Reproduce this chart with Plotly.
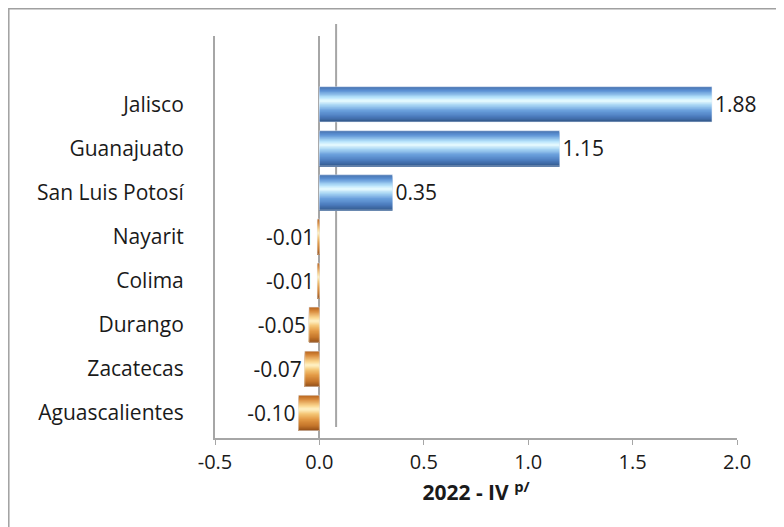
import plotly.graph_objects as go

# Data (bottom to top)
states = ['Aguascalientes', 'Zacatecas', 'Durango', 'Colima', 'Nayarit',
          'San Luis Potosí', 'Guanajuato', 'Jalisco']
values = [-0.10, -0.07, -0.05, -0.01, -0.01, 0.35, 1.15, 1.88]
labels = ['-0.10', '-0.07', '-0.05', '-0.01', '-0.01', '0.35', '1.15', '1.88']

# colour stops (top -> bottom) for the cylinder shading
BLUE_STOPS = [(0.0, '#4470ad'), (0.12, '#5e93d5'), (0.30, '#b4e2fb'),
              (0.40, '#eafcff'), (0.52, '#a9d6f4'), (0.68, '#6a9fdc'),
              (0.85, '#4b7bbd'), (1.0, '#33598c')]
ORANGE_STOPS = [(0.0, '#b5621d'), (0.12, '#d98c3e'), (0.30, '#fbd790'),
                (0.40, '#fff3c8'), (0.52, '#f6c97a'), (0.68, '#e39a46'),
                (0.85, '#c7782c'), (1.0, '#955118')]

FONT = '"Open Sans", Lato, sans-serif'
TEXT = '#1a1a1a'
GRID = '#a6a6a6'


def shade(stops, t):
    for (t0, c0), (t1, c1) in zip(stops, stops[1:]):
        if t <= t1:
            f = (t - t0) / (t1 - t0)
            a = [int(c0[k:k + 2], 16) for k in (1, 3, 5)]
            b = [int(c1[k:k + 2], 16) for k in (1, 3, 5)]
            return 'rgb(%d,%d,%d)' % tuple(round(x + (y - x) * f) for x, y in zip(a, b))
    return stops[-1][1]


fig = go.Figure()

n = 30
bar_w = 0.8
band = bar_w / n
for i in range(n):
    t = (i + 0.5) / n
    # each layer runs from the bar bottom up to band i; later layers paint over the lower part
    fig.add_trace(go.Bar(
        y=states, x=values, orientation='h',
        width=bar_w - i * band, offset=-bar_w / 2,
        marker=dict(color=[shade(BLUE_STOPS, t) if v >= 0 else shade(ORANGE_STOPS, t)
                           for v in values],
                    line=dict(width=0)),
        hoverinfo='skip', showlegend=False
    ))

# transparent bar carrying the value labels
fig.add_trace(go.Bar(
    y=states, x=values, orientation='h', width=bar_w,
    marker=dict(color='rgba(0,0,0,0)'),
    text=labels, textposition='outside', constraintext='none',
    textfont=dict(size=21, color=TEXT, family=FONT),
    cliponaxis=False, showlegend=False,
    hovertemplate='%{y}: %{x:.2f}<extra></extra>'
))

# page has an 8px body margin, so the figure is laid out in page px - 8
W, H = 776, 519
L, R, T, B = 207, 47, 28, 89
pw, ph = W - L - R, H - T - B


def px_x(p):
    return (p - L) / pw


def px_y(p):
    return (H - B - p) / ph


fig.update_layout(
    width=W, height=H,
    barmode='overlay',
    paper_bgcolor='#ffffff', plot_bgcolor='#ffffff',
    margin=dict(l=L, r=R, t=T, b=B),
    font=dict(family=FONT, size=21, color=TEXT),
    showlegend=False,
    shapes=[
        # outer chart border
        dict(type='rect', xref='paper', yref='paper',
             x0=px_x(0.8), x1=px_x(800), y0=px_y(540), y1=px_y(0.8),
             line=dict(color='#a0a0a0', width=1.5), layer='below'),
        # back-wall line of the 3D chart
        dict(type='line', xref='x', yref='paper',
             x0=0.08, x1=0.08, y0=px_y(419), y1=px_y(16),
             line=dict(color=GRID, width=2), layer='below'),
    ],
)

fig.update_xaxes(
    range=[-0.5, 2.0], tickvals=[-0.5, 0, 0.5, 1.0, 1.5, 2.0],
    ticktext=['-0.5', '0.0', '0.5', '1.0', '1.5', '2.0'],
    showgrid=False, zeroline=True, zerolinecolor=GRID, zerolinewidth=2,
    showline=True, linecolor=GRID, linewidth=1.5,
    ticks='outside', ticklen=5, tickcolor=GRID,
    tickfont=dict(size=20, color=TEXT),
    title=dict(text='<b>2022 - IV <sup>p/</sup></b>', standoff=12,
               font=dict(size=21, color=TEXT)),
    automargin=False,
)

fig.update_yaxes(
    type='category', categoryorder='array', categoryarray=states,
    range=[-0.57, 8.55],
    showgrid=False, zeroline=False,
    showline=True, linecolor=GRID, linewidth=2,
    ticks='', ticklabelstandoff=25,
    tickfont=dict(size=21, color=TEXT),
    automargin=False,
)

fig.write_html("out.html")
